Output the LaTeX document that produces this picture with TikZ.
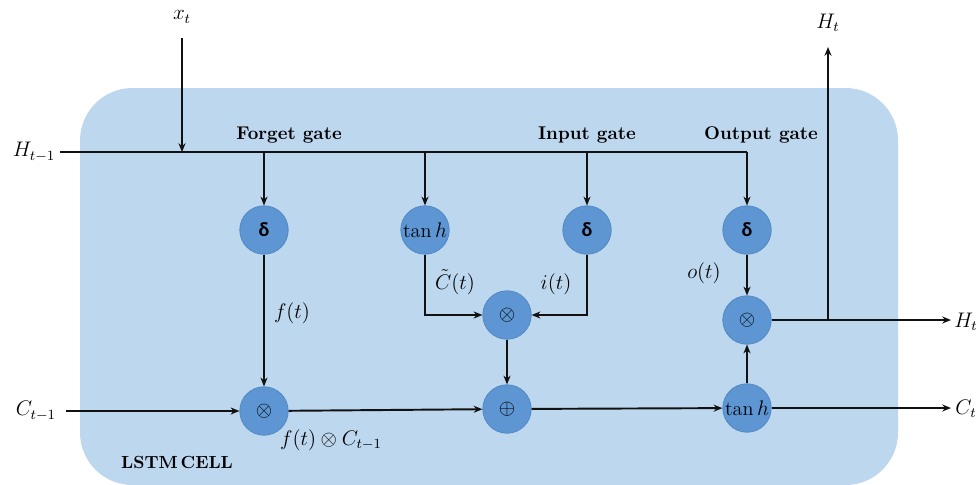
\documentclass[tikz,border=0pt]{standalone}
\usepackage{fontspec}
\usetikzlibrary{arrows.meta}
\newfontfamily\greekfont{Carlito}
\definecolor{cellfill}{HTML}{BDD7EE}
\definecolor{opfill}{HTML}{5D96D3}
\definecolor{opedge}{HTML}{4F86C2}
\definecolor{ink}{HTML}{111111}
\begin{document}
\begin{tikzpicture}[x=0.02cm,y=-0.02cm,
  wire/.style={draw=ink,line width=1.1pt},
  arr/.style={wire,-{Stealth[length=5pt,width=4pt]}},
  op/.style={circle,fill=opfill,draw=opedge,line width=0.4pt,minimum size=0.97cm,inner sep=0pt,font=\fontsize{11.5}{13}\selectfont},
  lbl/.style={font=\fontsize{12}{14}\selectfont,inner sep=1pt},
  gatelbl/.style={font=\bfseries\fontsize{10.5}{12}\selectfont,inner sep=1pt}]
\useasboundingbox (0,0) rectangle (979,484);

% cell body (its lower edge sits on the bottom of the page)
\path[fill=cellfill,rounded corners=1.05cm] (80,88) rectangle (898,485);

% operator circles
\node[op] (fg) at (264,230) {\greekfont\bfseries δ};
\node[op] (cg) at (425,230) {$\tan h$};
\node[op] (ig) at (587,230) {\greekfont\bfseries δ};
\node[op] (og) at (747,230) {\greekfont\bfseries δ};
\node[op] (mulf) at (264,411) {$\otimes$};
\node[op] (mulc) at (507,315) {$\otimes$};
\node[op] (add)  at (507,409) {$\oplus$};
\node[op] (mulo) at (747,320) {$\otimes$};
\node[op] (tanc) at (747,408) {$\tan h$};

% outer labels
\node[lbl] (xt)  at (182,17) {$x_t$};
\node[lbl] (hin) at (34,152) {$H_{t-1}$};
\node[lbl] (cin) at (36,411) {$C_{t-1}$};
\node[lbl] (hup) at (828,23) {$H_t$};
\node[lbl] (hout) at (966,322) {$H_t$};
\node[lbl] (cout) at (966,409) {$C_t$};

% gate titles
\node[gatelbl] (tf) at (289,135) {Forget gate};
\node[gatelbl] (ti) at (587,135) {Input gate};
\node[gatelbl] (to) at (761,135) {Output gate};
\node[font=\bfseries\fontsize{10}{12}\selectfont] (cell) at (177,462) {LSTM\,CELL};

% signal labels inside the cell
\node[lbl] (ft) at (292,313) {$f(t)$};
\node[lbl] (ct) at (455,282) {$\tilde{C}(t)$};
\node[lbl] (it) at (556,284) {$i(t)$};
\node[lbl] (ot) at (704,273) {$o(t)$};
\node[lbl] (fc) at (331,440) {$f(t)\otimes C_{t-1}$};

% wire coordinates
\coordinate (xtop) at (182,38);
\coordinate (xj) at (182,152);
\coordinate (hs) at (60,152);
\coordinate (hc) at (747,152);
\coordinate (bf) at (264,152);
\coordinate (bc) at (425,152);
\coordinate (bi) at (587,152);
\coordinate (cs) at (66,411);
\coordinate (hj) at (828,320);
\coordinate (htop) at (828,47);
\coordinate (hend) at (951,320);
\coordinate (cend) at (951,408);

% hidden state bus
\draw[arr] (xtop) -- (xj);
\draw[wire] (hs) -- (hc);
\draw[arr] (hc) -- (og);
\draw[arr] (bf) -- (fg);
\draw[arr] (bc) -- (cg);
\draw[arr] (bi) -- (ig);

% forget path
\draw[arr] (fg) -- (mulf);
\draw[arr] (cs) -- (mulf);
\draw[arr] (mulf) -- (add);

% input path
\draw[arr] (cg.south) |- (mulc.west);
\draw[arr] (ig.south) |- (mulc.east);
\draw[arr] (mulc) -- (add);
\draw[arr] (add) -- (tanc);

% output path
\draw[arr] (og) -- (mulo);
\draw[arr] (tanc) -- (mulo);
\draw[arr] (mulo) -- (hend);
\draw[arr] (hj) -- (htop);
\draw[arr] (tanc) -- (cend);
\end{tikzpicture}
\end{document}
